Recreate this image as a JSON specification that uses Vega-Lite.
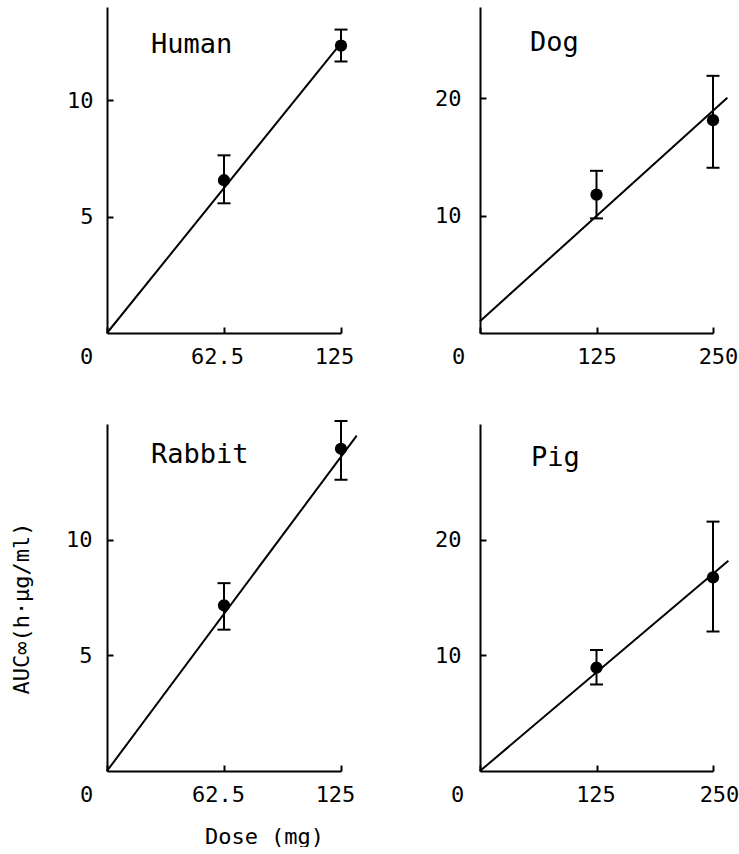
{
  "$schema": "https://vega.github.io/schema/vega-lite/v6.json",
  "autosize": {"type": "pad"},
  "padding": {"left": 10, "top": 7, "right": 0, "bottom": 0},
  "background": "white",
  "config": {
    "view": {"stroke": null},
    "font": "DejaVu Sans Mono",
    "axis": {
      "grid": false,
      "domainColor": "black",
      "domainWidth": 2,
      "tickColor": "black",
      "tickWidth": 2,
      "tickSize": -6,
      "labelColor": "black",
      "labelFont": "DejaVu Sans Mono",
      "labelFontSize": 22,
      "labelPadding": 19,
      "labelFlush": false,
      "labelOverlap": false,
      "format": ".1~f",
      "titleColor": "black",
      "titleFont": "DejaVu Sans Mono",
      "titleFontSize": 22,
      "titleFontWeight": "normal"
    },
    "title": {"font": "DejaVu Sans Mono", "fontSize": 27, "fontWeight": "normal", "color": "black", "anchor": "start", "frame": "group", "offset": 0, "baseline": "alphabetic"}
  },
  "datasets": {
    "points": [
      {"species": "Human", "dose": 62.5, "auc": 6.56, "lo": 5.57, "hi": 7.63},
      {"species": "Human", "dose": 125, "auc": 12.34, "lo": 11.66, "hi": 13.03},
      {"species": "Dog", "dose": 125, "auc": 11.8, "lo": 9.77, "hi": 13.83},
      {"species": "Dog", "dose": 250, "auc": 18.15, "lo": 14.09, "hi": 21.93},
      {"species": "Rabbit", "dose": 62.5, "auc": 7.16, "lo": 6.11, "hi": 8.12},
      {"species": "Rabbit", "dose": 125, "auc": 13.93, "lo": 12.59, "hi": 15.13},
      {"species": "Pig", "dose": 125, "auc": 8.93, "lo": 7.48, "hi": 10.46},
      {"species": "Pig", "dose": 250, "auc": 16.74, "lo": 12.06, "hi": 21.56}
    ],
    "fits": [
      {"species": "Human", "dose": 0, "auc": 0},
      {"species": "Human", "dose": 125, "auc": 12.45},
      {"species": "Dog", "dose": 0, "auc": 1.0},
      {"species": "Dog", "dose": 265.4, "auc": 20.06},
      {"species": "Rabbit", "dose": 0, "auc": 0},
      {"species": "Rabbit", "dose": 133.4, "auc": 14.5},
      {"species": "Pig", "dose": 0, "auc": 0},
      {"species": "Pig", "dose": 266.5, "auc": 18.18}
    ]
  },
  "bounds": "flush",
  "align": "each",
  "columns": 2,
  "spacing": {"row": 91, "column": 139},
  "concat": [
    {
      "width": 234, "height": 326,
      "title": {"text": "Human", "dx": 44, "dy": 56},
      "layer": [
        {
          "data": {"name": "fits"},
          "transform": [{"filter": "datum.species === 'Human'"}],
          "mark": {"type": "line", "color": "black", "strokeWidth": 2},
          "encoding": {
            "x": {"field": "dose", "type": "quantitative", "title": null, "scale": {"domain": [0, 125], "nice": false, "zero": false},
              "axis": {"values": [0, 62.5, 125], "labelOffset": {"condition": {"test": "datum.value === 0", "value": -21}, "value": -7}}},
            "y": {"field": "auc", "type": "quantitative", "title": null, "scale": {"domain": [0, 14], "nice": false},
              "axis": {"values": [5, 10], "labelPadding": 20}}
          }
        },
        {
          "data": {"name": "points"},
          "transform": [{"filter": "datum.species === 'Human'"}],
          "mark": {"type": "rule", "color": "black", "strokeWidth": 2},
          "encoding": {
            "x": {"field": "dose", "type": "quantitative", "title": null},
            "y": {"field": "lo", "type": "quantitative", "title": null},
            "y2": {"field": "hi", "title": null}
          }
        },
        {
          "data": {"name": "points"},
          "transform": [{"filter": "datum.species === 'Human'"}],
          "mark": {"type": "tick", "orient": "horizontal", "color": "black", "thickness": 2, "size": 13, "opacity": 1},
          "encoding": {
            "x": {"field": "dose", "type": "quantitative", "title": null},
            "y": {"field": "hi", "type": "quantitative", "title": null}
          }
        },
        {
          "data": {"name": "points"},
          "transform": [{"filter": "datum.species === 'Human'"}],
          "mark": {"type": "tick", "orient": "horizontal", "color": "black", "thickness": 2, "size": 13, "opacity": 1},
          "encoding": {
            "x": {"field": "dose", "type": "quantitative", "title": null},
            "y": {"field": "lo", "type": "quantitative", "title": null}
          }
        },
        {
          "data": {"name": "points"},
          "transform": [{"filter": "datum.species === 'Human'"}],
          "mark": {"type": "point", "filled": true, "color": "black", "size": 150, "opacity": 1},
          "encoding": {
            "x": {"field": "dose", "type": "quantitative", "title": null},
            "y": {"field": "auc", "type": "quantitative", "title": null}
          }
        }
      ]
    },
    {
      "width": 233, "height": 326,
      "title": {"text": "Dog", "dx": 50, "dy": 54},
      "layer": [
        {
          "data": {"name": "fits"},
          "transform": [{"filter": "datum.species === 'Dog'"}],
          "mark": {"type": "line", "color": "black", "strokeWidth": 2},
          "encoding": {
            "x": {"field": "dose", "type": "quantitative", "title": null, "scale": {"domain": [0, 250], "nice": false, "zero": false},
              "axis": {"values": [0, 125, 250], "labelOffset": {"condition": [{"test": "datum.value === 0", "value": -22}, {"test": "datum.value === 250", "value": 5}], "value": 0}}},
            "y": {"field": "auc", "type": "quantitative", "title": null, "scale": {"domain": [0, 27.8], "nice": false},
              "axis": {"values": [10, 20], "labelPadding": 25}}
          }
        },
        {
          "data": {"name": "points"},
          "transform": [{"filter": "datum.species === 'Dog'"}],
          "mark": {"type": "rule", "color": "black", "strokeWidth": 2},
          "encoding": {
            "x": {"field": "dose", "type": "quantitative", "title": null},
            "y": {"field": "lo", "type": "quantitative", "title": null},
            "y2": {"field": "hi", "title": null}
          }
        },
        {
          "data": {"name": "points"},
          "transform": [{"filter": "datum.species === 'Dog'"}],
          "mark": {"type": "tick", "orient": "horizontal", "color": "black", "thickness": 2, "size": 13, "opacity": 1},
          "encoding": {
            "x": {"field": "dose", "type": "quantitative", "title": null},
            "y": {"field": "hi", "type": "quantitative", "title": null}
          }
        },
        {
          "data": {"name": "points"},
          "transform": [{"filter": "datum.species === 'Dog'"}],
          "mark": {"type": "tick", "orient": "horizontal", "color": "black", "thickness": 2, "size": 13, "opacity": 1},
          "encoding": {
            "x": {"field": "dose", "type": "quantitative", "title": null},
            "y": {"field": "lo", "type": "quantitative", "title": null}
          }
        },
        {
          "data": {"name": "points"},
          "transform": [{"filter": "datum.species === 'Dog'"}],
          "mark": {"type": "point", "filled": true, "color": "black", "size": 150, "opacity": 1},
          "encoding": {
            "x": {"field": "dose", "type": "quantitative", "title": null},
            "y": {"field": "auc", "type": "quantitative", "title": null}
          }
        }
      ]
    },
    {
      "width": 234, "height": 347,
      "title": {"text": "Rabbit", "dx": 44, "dy": 53},
      "layer": [
        {
          "data": {"name": "fits"},
          "transform": [{"filter": "datum.species === 'Rabbit'"}],
          "mark": {"type": "line", "color": "black", "strokeWidth": 2},
          "encoding": {
            "x": {"field": "dose", "type": "quantitative", "title": "Dose (mg)", "scale": {"domain": [0, 125], "nice": false, "zero": false},
              "axis": {"values": [0, 62.5, 125], "labelOffset": {"condition": {"test": "datum.value === 0", "value": -21}, "value": -6}, "titleX": 157, "titleY": 72, "titleBaseline": "alphabetic", "titleAlign": "center"}},
            "y": {"field": "auc", "type": "quantitative", "title": "AUC∞(h·μg/ml)", "scale": {"domain": [0, 15], "nice": false},
              "axis": {"values": [5, 10], "labelPadding": 21, "titleX": -79, "titleY": 184, "titleAngle": -90, "titleAlign": "center", "titleBaseline": "alphabetic"}}
          }
        },
        {
          "data": {"name": "points"},
          "transform": [{"filter": "datum.species === 'Rabbit'"}],
          "mark": {"type": "rule", "color": "black", "strokeWidth": 2},
          "encoding": {
            "x": {"field": "dose", "type": "quantitative", "title": "Dose (mg)"},
            "y": {"field": "lo", "type": "quantitative", "title": "AUC∞(h·μg/ml)"},
            "y2": {"field": "hi", "title": "AUC∞(h·μg/ml)"}
          }
        },
        {
          "data": {"name": "points"},
          "transform": [{"filter": "datum.species === 'Rabbit'"}],
          "mark": {"type": "tick", "orient": "horizontal", "color": "black", "thickness": 2, "size": 13, "opacity": 1},
          "encoding": {
            "x": {"field": "dose", "type": "quantitative", "title": "Dose (mg)"},
            "y": {"field": "hi", "type": "quantitative", "title": "AUC∞(h·μg/ml)"}
          }
        },
        {
          "data": {"name": "points"},
          "transform": [{"filter": "datum.species === 'Rabbit'"}],
          "mark": {"type": "tick", "orient": "horizontal", "color": "black", "thickness": 2, "size": 13, "opacity": 1},
          "encoding": {
            "x": {"field": "dose", "type": "quantitative", "title": "Dose (mg)"},
            "y": {"field": "lo", "type": "quantitative", "title": "AUC∞(h·μg/ml)"}
          }
        },
        {
          "data": {"name": "points"},
          "transform": [{"filter": "datum.species === 'Rabbit'"}],
          "mark": {"type": "point", "filled": true, "color": "black", "size": 150, "opacity": 1},
          "encoding": {
            "x": {"field": "dose", "type": "quantitative", "title": "Dose (mg)"},
            "y": {"field": "auc", "type": "quantitative", "title": "AUC∞(h·μg/ml)"}
          }
        }
      ]
    },
    {
      "width": 233, "height": 347,
      "title": {"text": "Pig", "dx": 51, "dy": 52},
      "layer": [
        {
          "data": {"name": "fits"},
          "transform": [{"filter": "datum.species === 'Pig'"}],
          "mark": {"type": "line", "color": "black", "strokeWidth": 2},
          "encoding": {
            "x": {"field": "dose", "type": "quantitative", "title": null, "scale": {"domain": [0, 250], "nice": false, "zero": false},
              "axis": {"values": [0, 125, 250], "labelOffset": {"condition": [{"test": "datum.value === 0", "value": -23}, {"test": "datum.value === 250", "value": 6}], "value": -1}}},
            "y": {"field": "auc", "type": "quantitative", "title": null, "scale": {"domain": [0, 30], "nice": false},
              "axis": {"values": [10, 20], "labelPadding": 25}}
          }
        },
        {
          "data": {"name": "points"},
          "transform": [{"filter": "datum.species === 'Pig'"}],
          "mark": {"type": "rule", "color": "black", "strokeWidth": 2},
          "encoding": {
            "x": {"field": "dose", "type": "quantitative", "title": null},
            "y": {"field": "lo", "type": "quantitative", "title": null},
            "y2": {"field": "hi", "title": null}
          }
        },
        {
          "data": {"name": "points"},
          "transform": [{"filter": "datum.species === 'Pig'"}],
          "mark": {"type": "tick", "orient": "horizontal", "color": "black", "thickness": 2, "size": 13, "opacity": 1},
          "encoding": {
            "x": {"field": "dose", "type": "quantitative", "title": null},
            "y": {"field": "hi", "type": "quantitative", "title": null}
          }
        },
        {
          "data": {"name": "points"},
          "transform": [{"filter": "datum.species === 'Pig'"}],
          "mark": {"type": "tick", "orient": "horizontal", "color": "black", "thickness": 2, "size": 13, "opacity": 1},
          "encoding": {
            "x": {"field": "dose", "type": "quantitative", "title": null},
            "y": {"field": "lo", "type": "quantitative", "title": null}
          }
        },
        {
          "data": {"name": "points"},
          "transform": [{"filter": "datum.species === 'Pig'"}],
          "mark": {"type": "point", "filled": true, "color": "black", "size": 150, "opacity": 1},
          "encoding": {
            "x": {"field": "dose", "type": "quantitative", "title": null},
            "y": {"field": "auc", "type": "quantitative", "title": null}
          }
        }
      ]
    }
  ]
}
